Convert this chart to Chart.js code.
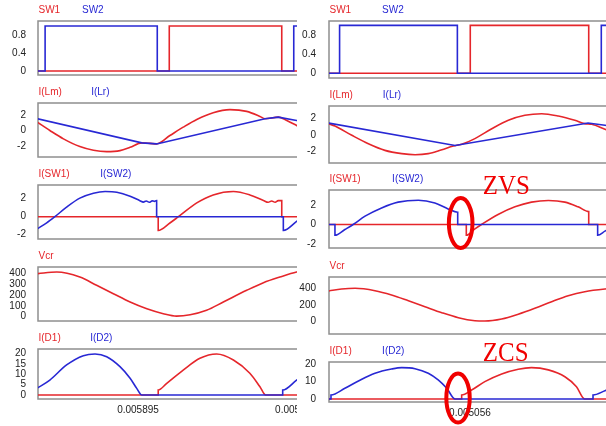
<!DOCTYPE html>
<html>
<head>
<meta charset="utf-8">
<script src="https://cdn.jsdelivr.net/npm/chart.js@4.4.1/dist/chart.umd.min.js"></script>
<style>
  html, body { margin: 0; padding: 0; background: #fff; width: 606px; height: 426px; overflow: hidden; }
  .col { position: absolute; top: 0; height: 426px; overflow: hidden; }
  #left { left: 0; width: 297px; }
  #right { left: 297px; width: 309px; }
</style>
</head>
<body>
<div class="col" id="left"></div>
<div class="col" id="right"></div>
<script>
// Time is in microseconds; the axis labels show seconds.
const xTicksLeft = [5895, 5900];
const xTicksRight = [5056];

const ticksSW = [0, 0.4, 0.8];
const ticksI = [-2, 0, 2];
const ticksVcrLeft = [0, 100, 200, 300, 400];
const ticksVcrRight = [0, 200, 400];
const ticksDLeft = [0, 5, 10, 15, 20];
const ticksDRight = [0, 10, 20];

// ---- left window: [t (us), value] ----
const sw1Left = [[5891.80,0],[5895.99,0],[5895.99,1],[5899.55,1],[5899.55,0],[5900.82,0]];
const sw2Left = [[5891.80,0],[5892.06,0],[5892.06,1],[5895.61,1],[5895.61,0],[5899.93,0],[5899.93,1],[5900.82,1]];

const iLmLeft = [[5891.81,1.08],[5892.21,0.00],[5892.64,-1.08],[5893.16,-2.08],[5893.59,-2.56],[5894.01,-2.73],[5894.43,-2.60],[5894.75,-2.17],[5895.12,-1.60],[5895.38,-1.66],[5895.59,-1.73],[5896.01,-0.65],[5896.43,0.43],[5896.86,1.43],[5897.38,2.30],[5897.91,2.69],[5898.44,2.47],[5898.86,1.82],[5899.02,1.52],[5899.44,1.73],[5899.71,1.30],[5900.02,0.65],[5900.44,-0.30]];
const iLrLeft = [[5891.81,1.52],[5895.12,-1.60],[5895.59,-1.73],[5899.02,1.52],[5899.44,1.73],[5900.02,1.30],[5900.44,0.99]];

const iSw1Left = [[5891.80,0],[5895.64,0],[5895.64,-1.53],[5896.01,-0.70],[5896.28,0.00],[5896.86,1.53],[5897.38,2.42],[5898.02,2.80],[5898.54,2.42],[5898.97,1.80],[5899.12,1.60],[5899.23,1.74],[5899.34,1.60],[5899.44,1.78],[5899.55,1.80],[5899.55,0],[5900.82,0]];
const iSw2Left = [[5891.81,-1.35],[5892.11,-0.69],[5892.37,0.00],[5892.74,1.06],[5893.16,2.06],[5893.59,2.61],[5893.96,2.80],[5894.33,2.72],[5894.75,2.28],[5895.06,1.78],[5895.17,1.62],[5895.26,1.74],[5895.36,1.60],[5895.45,1.76],[5895.52,1.70],[5895.59,1.80],[5895.59,0],[5899.60,0],[5899.60,-1.53],[5900.02,-0.53],[5900.44,0.50]];

const vcrLeft = [[5891.81,395],[5892.43,410],[5893.16,364],[5893.69,288],[5894.22,211],[5894.75,135],[5895.28,73],[5895.80,28],[5896.22,6],[5896.65,18],[5897.17,59],[5897.70,135],[5898.44,242],[5898.97,312],[5899.49,364],[5900.02,410],[5900.44,430]];

const iD1Left = [[5891.80,0],[5895.64,0],[5895.64,2.4],[5895.91,5.6],[5896.43,12.0],[5896.96,17.7],[5897.49,19.8],[5898.02,16.9],[5898.54,10.5],[5898.86,4.0],[5899.04,0],[5900.82,0]];
const iD2Left = [[5891.81,3.3],[5892.21,7.2],[5892.74,14.5],[5893.27,19.0],[5893.64,19.8],[5894.01,18.5],[5894.43,13.7],[5894.75,8.1],[5894.96,3.2],[5895.12,0],[5899.58,0],[5899.58,2.4],[5900.02,7.2],[5900.44,12.0]];

// ---- right window ----
const sw1Right = [[5051.74,0],[5056.01,0],[5056.01,1],[5059.59,1],[5059.59,0],[5061.14,0]];
const sw2Right = [[5051.74,0],[5052.06,0],[5052.06,1],[5055.62,1],[5055.62,0],[5059.97,0],[5059.97,1],[5061.14,1]];

const iLmRight = [[5051.72,1.36],[5051.92,1.07],[5052.43,-0.06],[5052.93,-1.09],[5053.43,-1.90],[5053.94,-2.30],[5054.34,-2.43],[5054.74,-2.30],[5055.15,-1.82],[5055.50,-1.37],[5055.75,-1.16],[5056.15,-0.47],[5056.66,0.74],[5057.16,1.77],[5057.66,2.38],[5058.17,2.57],[5058.67,2.29],[5059.17,1.77],[5059.47,1.36],[5059.68,1.28],[5060.08,0.67],[5060.38,0.20]];
const iLrRight = [[5051.72,1.44],[5055.55,-1.30],[5059.57,1.44],[5060.08,1.16],[5060.38,0.99]];

const iSw1Right = [[5051.74,0],[5055.89,0],[5055.89,-1.10],[5056.15,-0.45],[5056.35,0.00],[5056.85,1.02],[5057.36,1.80],[5057.86,2.28],[5058.37,2.45],[5058.87,2.28],[5059.27,1.80],[5059.59,1.31],[5059.59,0],[5061.14,0]];
const iSw2Right = [[5051.74,0],[5051.92,0],[5051.92,-1.10],[5052.22,-0.51],[5052.47,0.00],[5052.83,0.85],[5053.33,1.69],[5053.83,2.28],[5054.44,2.48],[5054.94,2.20],[5055.34,1.59],[5055.63,1.25],[5055.63,0],[5059.86,0],[5059.86,-1.10],[5060.08,-0.68],[5060.38,-0.10]];

const vcrRight = [[5051.72,367],[5052.12,391],[5052.53,400],[5053.13,371],[5053.63,320],[5054.14,251],[5054.64,180],[5055.15,108],[5055.65,48],[5056.15,12],[5056.45,8],[5056.96,32],[5057.46,89],[5057.96,160],[5058.47,240],[5058.97,311],[5059.47,359],[5060.08,391],[5060.38,400]];

const iD1Right = [[5051.74,0],[5055.75,0],[5055.75,2.3],[5056.05,5.1],[5056.45,9.9],[5056.96,14.3],[5057.46,17.0],[5057.86,17.9],[5058.37,16.6],[5058.87,12.7],[5059.22,7.0],[5059.47,0],[5061.14,0]];
const iD2Right = [[5051.74,0],[5051.80,0],[5051.80,2.3],[5052.22,6.1],[5052.63,10.3],[5053.13,14.7],[5053.63,17.1],[5053.94,17.9],[5054.34,17.3],[5054.74,14.7],[5055.04,10.9],[5055.30,6.1],[5055.55,0],[5059.72,0],[5059.72,2.3],[5060.08,4.7],[5060.38,7.0]];

// ---- styling ----
const RED = '#e5262b', BLUE = '#2828d4', FRAME = '#8f8f8f', MARK = '#f00000';
Chart.defaults.font.family = '"Liberation Sans", Arial, Helvetica, sans-serif';
Chart.defaults.font.size = 10;
Chart.defaults.color = '#222';

// Gray box around each plot area
const framePlugin = {
  id: 'frame',
  beforeDatasetsDraw(chart) {
    const a = chart.chartArea, ctx = chart.ctx;
    ctx.save();
    ctx.strokeStyle = FRAME;
    ctx.lineWidth = 1.5;
    ctx.strokeRect(a.left, a.top, a.right - a.left, a.bottom - a.top);
    ctx.restore();
  }
};

// Coloured trace names above each plot
const namesPlugin = {
  id: 'names',
  afterDraw(chart, args, opts) {
    const { ctx, chartArea: a } = chart;
    ctx.save();
    ctx.font = '10px "Liberation Sans", Arial, sans-serif';
    ctx.textBaseline = 'middle';
    ctx.textAlign = 'left';
    chart.data.datasets.forEach((ds, i) => {
      ctx.fillStyle = ds.borderColor;
      ctx.fillText(ds.label, a.left + 0.5 + i * (opts.gap || 0), a.top - 10.5);
    });
    ctx.restore();
  }
};

// Hand-drawn style callout: a ring on the switching instant plus a caption
const notePlugin = {
  id: 'note',
  afterDraw(chart, args, opts) {
    if (!opts || !opts.text) return;
    const { ctx, scales: { x, y } } = chart;
    ctx.save();
    ctx.strokeStyle = MARK;
    ctx.lineWidth = 4;
    ctx.beginPath();
    ctx.ellipse(x.getPixelForValue(opts.ringAt[0]), y.getPixelForValue(opts.ringAt[1]),
                opts.ringR[0], opts.ringR[1], 0, 0, Math.PI * 2);
    ctx.stroke();
    ctx.translate(x.getPixelForValue(opts.textAt[0]), y.getPixelForValue(opts.textAt[1]));
    ctx.scale(0.89, 1);
    ctx.font = '28px "Liberation Serif", "Times New Roman", serif';
    ctx.fillStyle = MARK;
    ctx.textBaseline = 'alphabetic';
    ctx.fillText(opts.text, 0, 0);
    ctx.restore();
  }
};

const columns = {
  left:  { el: document.getElementById('left'),  width: 322, axisW: 38, tickPad: 12, range: [5891.835, 5900.824], xAxisH: 20 },
  right: { el: document.getElementById('right'), width: 343, axisW: 32, tickPad: 13, range: [5051.74, 5061.14], xAxisH: 24 }
};

function makePanel(col, p) {
  const hasX = !!p.xTicks;
  const padB = hasX ? 0 : 10;
  const xH = hasX ? col.xAxisH : 0;
  const canvas = document.createElement('canvas');
  canvas.width = col.width;
  canvas.height = 22 + (p.frame[1] - p.frame[0]) + padB + xH;
  canvas.style.cssText = 'position:absolute;left:0;top:' + (p.frame[0] - 22) + 'px';
  col.el.appendChild(canvas);

  new Chart(canvas, {
    type: 'line',
    data: {
      datasets: p.series.map(s => ({
        label: s.name,
        data: s.data.map(([x, y]) => ({ x, y })),
        borderColor: s.color,
        backgroundColor: s.color,
        borderWidth: 1.6,
        pointRadius: 0,
        fill: false,
        tension: s.smooth ? 0.4 : 0,
        cubicInterpolationMode: s.smooth ? 'monotone' : 'default',
        order: s.color === BLUE ? 0 : 1
      }))
    },
    options: {
      responsive: false,
      animation: false,
      events: [],
      layout: { padding: { top: 22, bottom: padB, left: 0, right: 0 } },
      plugins: {
        legend: { display: false },
        tooltip: { enabled: false },
        names: { gap: p.gap },
        note: p.note || false
      },
      scales: {
        x: {
          type: 'linear',
          min: col.range[0], max: col.range[1],
          display: hasX,
          grid: { display: false, drawTicks: false },
          border: { display: false },
          afterBuildTicks: s => { s.ticks = (p.xTicks || []).map(v => ({ value: v })); },
          afterFit: s => { s.height = xH; s.paddingLeft = 0; s.paddingRight = 0; },
          ticks: { padding: 5, maxRotation: 0, autoSkip: false, callback: v => (v / 1e6).toFixed(6) }
        },
        y: {
          min: p.y[0], max: p.y[1],
          grid: { display: false, drawTicks: false },
          border: { display: false },
          afterBuildTicks: s => { s.ticks = p.yTicks.map(v => ({ value: v })); },
          afterFit: s => { s.width = col.axisW; s.paddingTop = 0; s.paddingBottom = 0; },
          ticks: { padding: col.tickPad, autoSkip: false, callback: v => String(v) }
        }
      }
    },
    plugins: [framePlugin, namesPlugin, notePlugin]
  });
}

// ---- left column ----
makePanel(columns.left, { frame: [21, 75], y: [-0.089, 1.111], yTicks: ticksSW, gap: 43.5,
  series: [{ name: 'SW1', data: sw1Left, color: RED }, { name: 'SW2', data: sw2Left, color: BLUE }] });
makePanel(columns.left, { frame: [103, 157], y: [-3.42, 3.55], yTicks: ticksI, gap: 52.7,
  series: [{ name: 'I(Lm)', data: iLmLeft, color: RED, smooth: true }, { name: 'I(Lr)', data: iLrLeft, color: BLUE }] });
makePanel(columns.left, { frame: [185, 239], y: [-2.48, 3.52], yTicks: ticksI, gap: 61.7,
  series: [{ name: 'I(SW1)', data: iSw1Left, color: RED, smooth: true }, { name: 'I(SW2)', data: iSw2Left, color: BLUE, smooth: true }] });
makePanel(columns.left, { frame: [267, 321], y: [-39, 456], yTicks: ticksVcrLeft, gap: 0,
  series: [{ name: 'Vcr', data: vcrLeft, color: RED, smooth: true }] });
makePanel(columns.left, { frame: [349, 399], y: [-1.93, 22.2], yTicks: ticksDLeft, gap: 51.7, xTicks: xTicksLeft,
  series: [{ name: 'I(D1)', data: iD1Left, color: RED, smooth: true }, { name: 'I(D2)', data: iD2Left, color: BLUE, smooth: true }] });

// ---- right column ----
makePanel(columns.right, { frame: [21, 78], y: [-0.098, 1.092], yTicks: ticksSW, gap: 52.6,
  series: [{ name: 'SW1', data: sw1Right, color: RED }, { name: 'SW2', data: sw2Right, color: BLUE }] });
makePanel(columns.right, { frame: [106, 163], y: [-3.44, 3.51], yTicks: ticksI, gap: 53.3,
  series: [{ name: 'I(Lm)', data: iLmRight, color: RED, smooth: true }, { name: 'I(Lr)', data: iLrRight, color: BLUE }] });
makePanel(columns.right, { frame: [190, 248], y: [-2.40, 3.52], yTicks: ticksI, gap: 62.6,
  series: [{ name: 'I(SW1)', data: iSw1Right, color: RED, smooth: true }, { name: 'I(SW2)', data: iSw2Right, color: BLUE, smooth: true }],
  note: { text: 'ZVS', ringAt: [5055.72, 0.15], ringR: [11.8, 25], textAt: [5056.39, 3.08] } });
makePanel(columns.right, { frame: [277, 334], y: [-147, 535], yTicks: ticksVcrRight, gap: 0,
  series: [{ name: 'Vcr', data: vcrRight, color: RED, smooth: true }] });
makePanel(columns.right, { frame: [362, 402], y: [-1.71, 21.1], yTicks: ticksDRight, gap: 52.6, xTicks: xTicksRight,
  series: [{ name: 'I(D1)', data: iD1Right, color: RED, smooth: true }, { name: 'I(D2)', data: iD2Right, color: BLUE, smooth: true }],
  note: { text: 'ZCS', ringAt: [5055.64, 0.57], ringR: [11.7, 24.5], textAt: [5056.39, 21.9] } });
</script>
</body>
</html>
